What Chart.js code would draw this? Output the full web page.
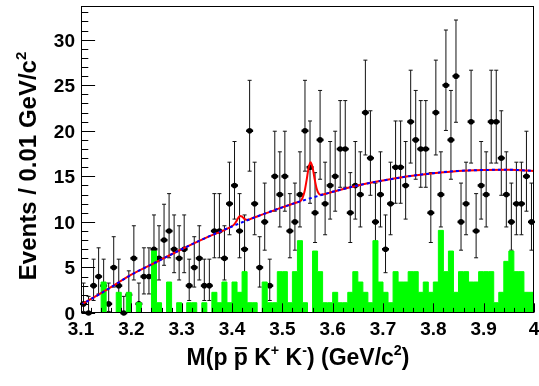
<!DOCTYPE html>
<html>
<head>
<meta charset="utf-8">
<script src="https://cdn.jsdelivr.net/npm/chart.js@4.4.0/dist/chart.umd.min.js"></script>
<style>
  html, body { margin: 0; padding: 0; background: #fff; }
  #wrap { width: 539px; height: 386px; }
</style>
</head>
<body>
<div id="wrap"><canvas id="massChart" width="539" height="386"></canvas></div>
<script>
// histogram binning: 90 bins of 0.01 GeV/c^2 from 3.1 to 4.0
const binLow = 3.1;
const binWidth = 0.01;

// events per bin (black points)
const events = [
  1, 0, 3, 4, 3, 1, 5, 3, 0, 2,
  6, 1, 4, 4, 7, 6, 8, 9, 7, 6,
  7, 3, 5, 6, 3, 3, 9, 9, 6, 12,
  14, 9, 7, 20, 12, 5, 10, 3, 15, 13,
  15, 9, 10, 13, 20, 16, 11, 19, 12, 14,
  15, 18, 18, 11, 14, 13, 22, 17, 10, 13,
  7, 12, 16, 16, 14, 21, 19, 18, 18, 11,
  22, 13, 25, 19, 26, 10, 12, 21, 9, 14,
  13, 21, 21, 17, 13, 10, 12, 12, 15, 10
];

// normalised sideband (green histogram)
const sideband = [
  0, 0, 0, 0, 0, 3.40, 0, 0, 2.27, 0,
  2.27, 0, 1.13, 0, 0, 6.80, 1.13, 0, 3.40, 0,
  1.13, 0, 1.13, 1.13, 0, 1.13, 0, 2.27, 1.13, 3.40,
  1.13, 3.40, 2.27, 4.54, 1.13, 1.13, 0, 3.40, 1.13, 1.13,
  4.54, 4.54, 1.13, 4.54, 7.94, 1.13, 0, 6.80, 4.54, 1.13,
  1.13, 2.27, 1.13, 1.13, 2.27, 4.54, 3.40, 2.27, 1.13, 7.94,
  3.40, 2.27, 1.13, 4.54, 3.40, 3.40, 4.54, 4.54, 2.27, 3.40,
  2.27, 3.40, 9.07, 4.54, 6.80, 2.27, 4.54, 4.54, 3.40, 3.40,
  4.54, 4.54, 4.54, 1.13, 2.27, 5.67, 6.80, 4.54, 4.54, 2.27
];

// background shape (blue dashed)
const bkgMass = [3.10, 3.15, 3.20, 3.25, 3.30, 3.35, 3.40, 3.45, 3.50, 3.55,
                 3.60, 3.65, 3.70, 3.75, 3.80, 3.85, 3.90, 3.95, 4.00];
const bkgValue = [0.9, 2.5, 4.2, 5.6, 7.0, 8.3, 9.5, 10.6, 11.6, 12.5,
                  13.3, 14.0, 14.55, 15.0, 15.35, 15.6, 15.7, 15.72, 15.6];

// total fit (red)
const fitMass = [3.10, 3.15, 3.20, 3.25, 3.30, 3.35, 3.40, 3.404, 3.408, 3.412,
                 3.416, 3.420, 3.424, 3.428, 3.432, 3.440, 3.45, 3.50, 3.53, 3.536,
                 3.540, 3.544, 3.548, 3.552, 3.556, 3.560, 3.564, 3.568, 3.572, 3.576,
                 3.58, 3.60, 3.65, 3.70, 3.75, 3.80, 3.85, 3.90, 3.95, 4.00];
const fitValue = [0.9, 2.5, 4.2, 5.6, 7.0, 8.3, 9.53, 9.70, 10.01, 10.40,
                  10.65, 10.58, 10.36, 10.23, 10.23, 10.40, 10.6, 11.6, 12.16, 12.28,
                  12.62, 13.3, 14.5, 15.87, 16.55, 16.0, 14.77, 13.7, 13.14, 12.99,
                  13.0, 13.3, 14.0, 14.55, 15.0, 15.35, 15.6, 15.7, 15.72, 15.6];

const xTicks = [3.1, 3.2, 3.3, 3.4, 3.5, 3.6, 3.7, 3.8, 3.9, 4.0];
const xTickLabels = ['3.1', '3.2', '3.3', '3.4', '3.5', '3.6', '3.7', '3.8', '3.9', '4'];
const yTicks = [0, 5, 10, 15, 20, 25, 30];

const FONT = '"Liberation Sans", Arial, Helvetica, sans-serif';

// 68% Poisson interval (Wilson-Hilferty approximation)
function poissonInterval(n) {
    const hi = (n + 1) * Math.pow(1 - 1 / (9 * (n + 1)) + 1 / (3 * Math.sqrt(n + 1)), 3);
    const lo = n === 0 ? 0 : n * Math.pow(1 - 1 / (9 * n) - 1 / (3 * Math.sqrt(n)), 3);
    return [lo, hi];
}

const pointData = events.map((n, i) => ({ x: binLow + (i + 0.5) * binWidth, y: n }));
const sidebandSteps = sideband.map((v, i) => ({ x: binLow + i * binWidth, y: v }));
sidebandSteps.push({ x: binLow + sideband.length * binWidth, y: sideband[sideband.length - 1] });

const errorBars = {
    id: 'errorBars',
    beforeDatasetDraw(chart, args) {
        if (args.index !== 0) return;
        const { ctx, scales: { x, y } } = chart;
        ctx.save();
        ctx.strokeStyle = '#111';
        ctx.lineWidth = 1;
        events.forEach((n, i) => {
            const [lo, hi] = poissonInterval(n);
            const px = x.getPixelForValue(binLow + (i + 0.5) * binWidth);
            const yLo = y.getPixelForValue(lo);
            const yHi = y.getPixelForValue(hi);
            ctx.beginPath();
            ctx.moveTo(px, yLo);
            ctx.lineTo(px, yHi);
            ctx.moveTo(px - 2, yHi);
            ctx.lineTo(px + 2, yHi);
            ctx.moveTo(px - 2, yLo);
            ctx.lineTo(px + 2, yLo);
            ctx.stroke();
        });
        ctx.lineWidth = 2.4;
        ctx.strokeStyle = '#000';
        events.forEach((n, i) => {
            const px = x.getPixelForValue(binLow + (i + 0.5) * binWidth);
            const py = y.getPixelForValue(n);
            ctx.beginPath();
            ctx.moveTo(px - 3.5, py);
            ctx.lineTo(px + 3.5, py);
            ctx.stroke();
        });
        ctx.restore();
    }
};

function drawPieces(ctx, pieces, size) {
    // returns total width, draws if ctx has position set by caller
    let w = 0;
    pieces.forEach(p => {
        ctx.font = 'bold ' + (p.sup ? size * 0.62 : size) + 'px ' + FONT;
        w += ctx.measureText(p.t).width;
    });
    return w;
}

function renderPieces(ctx, pieces, size, x0, baseline) {
    let x = x0;
    pieces.forEach(p => {
        const s = p.sup ? size * 0.62 : size;
        ctx.font = 'bold ' + s + 'px ' + FONT;
        const w = ctx.measureText(p.t).width;
        const yb = p.sup ? baseline - size * 0.42 : baseline;
        ctx.fillText(p.t, x, yb);
        if (p.bar) {
            ctx.fillRect(x + 1, baseline - size * 0.78, w - 2, size * 0.09);
        }
        x += w;
    });
}

const rootFrame = {
    id: 'rootFrame',
    afterDraw(chart) {
        const { ctx, chartArea: a, scales: { x, y } } = chart;
        ctx.save();
        ctx.strokeStyle = '#000';
        ctx.fillStyle = '#000';
        ctx.lineWidth = 1;
        const L = Math.round(a.left) + 0.5, R = Math.round(a.right) - 0.5;
        const T = Math.round(a.top) + 0.5, B = Math.round(a.bottom) - 0.5;
        ctx.strokeRect(L, T, R - L, B - T);

        // y ticks (inside)
        ctx.beginPath();
        for (let v = 0; v <= 33; v++) {
            const py = Math.round(y.getPixelForValue(v)) + 0.5;
            const len = v % 5 === 0 ? 13.6 : 6.8;
            ctx.moveTo(L, py);
            ctx.lineTo(L + len, py);
        }
        // x ticks (inside)
        for (let k = 0; k <= 45; k++) {
            const px = Math.round(x.getPixelForValue(binLow + k * 0.02)) + 0.5;
            const len = k % 5 === 0 ? 9.2 : 4.6;
            ctx.moveTo(px, B);
            ctx.lineTo(px, B - len);
        }
        ctx.stroke();

        // tick labels
        ctx.font = 'bold 19px ' + FONT;
        ctx.textAlign = 'right';
        ctx.textBaseline = 'alphabetic';
        yTicks.forEach(v => {
            ctx.fillText(String(v), a.left - 6, y.getPixelForValue(v) + 7);
        });
        ctx.textAlign = 'center';
        xTicks.forEach((v, i) => {
            ctx.fillText(xTickLabels[i], x.getPixelForValue(v), 335);
        });

        // axis titles
        ctx.textAlign = 'left';
        const xTitle = [
            { t: 'M(p ' }, { t: 'p', bar: true }, { t: ' K' }, { t: '+', sup: true },
            { t: ' K' }, { t: '-', sup: true }, { t: ') (GeV/c' }, { t: '2', sup: true }, { t: ')' }
        ];
        const xs = 23;
        const xw = drawPieces(ctx, xTitle, xs);
        renderPieces(ctx, xTitle, xs, 298 - xw / 2, 365);

        const yTitle = [{ t: 'Events / 0.01 GeV/c' }, { t: '2', sup: true }];
        const ys = 24;
        const yw = drawPieces(ctx, yTitle, ys);
        ctx.translate(36, 166);
        ctx.rotate(-Math.PI / 2);
        renderPieces(ctx, yTitle, ys, -yw / 2, 0);
        ctx.restore();
    }
};

const ctx = document.getElementById('massChart').getContext('2d');
new Chart(ctx, {
    type: 'scatter',
    data: {
        datasets: [
            {
                type: 'scatter',
                label: 'data',
                data: pointData,
                pointRadius: 2.8,
                pointBackgroundColor: '#000',
                pointBorderWidth: 0,
                clip: false,
                order: 3
            },
            {
                type: 'line',
                label: 'sideband',
                data: sidebandSteps,
                stepped: 'after',
                fill: 'origin',
                backgroundColor: '#00ff00',
                borderColor: '#00ff00',
                borderWidth: 1,
                pointRadius: 0,
                order: 2
            },
            {
                type: 'line',
                label: 'fit',
                data: fitMass.map((m, i) => ({ x: m, y: fitValue[i] })),
                borderColor: '#ff0000',
                borderWidth: 2,
                cubicInterpolationMode: 'monotone',
                pointRadius: 0,
                fill: false,
                order: 1
            },
            {
                type: 'line',
                label: 'background',
                data: bkgMass.map((m, i) => ({ x: m, y: bkgValue[i] })),
                borderColor: '#0000ff',
                borderWidth: 2,
                borderDash: [3, 3],
                cubicInterpolationMode: 'monotone',
                pointRadius: 0,
                fill: false,
                order: 0
            }
        ]
    },
    options: {
        responsive: false,
        animation: false,
        events: [],
        layout: { padding: { left: 81, top: 6, right: 5, bottom: 73 } },
        plugins: {
            legend: { display: false },
            tooltip: { enabled: false }
        },
        scales: {
            x: { type: 'linear', display: false, min: 3.1, max: 4.0, offset: false },
            y: { type: 'linear', display: false, min: 0, max: 33.7 }
        }
    },
    plugins: [errorBars, rootFrame]
});
</script>
</body>
</html>
